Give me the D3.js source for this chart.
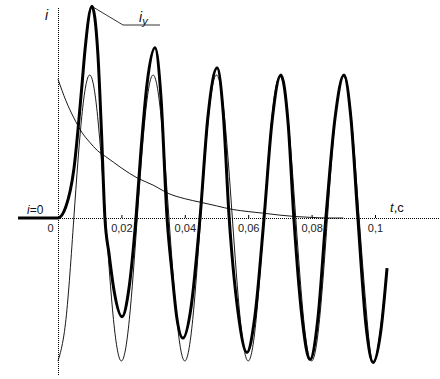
<!DOCTYPE html>
<html>
<head>
<meta charset="utf-8">
<script src="https://cdn.jsdelivr.net/npm/d3@7"></script>
<style>
body { margin: 0; background: #fff; }
svg { display: block; font-family: "Liberation Sans", Arial, sans-serif; }
</style>
</head>
<body>
<div id="chart"></div>
<script>
// values: t in seconds, i in units of the periodic amplitude
// total current i (thick line), i=0 before switching
const total_t = [-0.0126, 0, 0.0025, 0.005, 0.0076, 0.0085, 0.0107, 0.0126, 0.0137, 0.0148,
    0.0161, 0.0177, 0.0202, 0.0224, 0.0246, 0.0262, 0.0281, 0.0306, 0.0325, 0.0344,
    0.036, 0.0375, 0.0394, 0.042, 0.0448, 0.0473, 0.0502, 0.0521, 0.054, 0.0568,
    0.0596, 0.0621, 0.065, 0.0675, 0.0703, 0.0726, 0.0744, 0.077, 0.0795, 0.082,
    0.0845, 0.0874, 0.0902, 0.0924, 0.0946, 0.0972, 0.0994, 0.1019, 0.1038]
const total_i = [0, 0, 0.08, 0.34, 0.94, 1.17, 1.48, 1.14, 0.61, 0,
    -0.25, -0.51, -0.69, -0.49, 0, 0.48, 0.94, 1.19, 0.84, 0,
    -0.39, -0.70, -0.84, -0.62, 0, 0.71, 1.05, 0.74, 0, -0.66,
    -0.94, -0.69, 0, 0.67, 1.0, 0.66, 0, -0.70, -0.99, -0.70,
    0, 0.70, 1.0, 0.70, 0, -0.76, -1.01, -0.78, -0.35]

// periodic component (thin sine)
const periodic_t = [0, 0.0025, 0.005, 0.0075, 0.01, 0.0125, 0.015, 0.0175,
    0.02, 0.0225, 0.025, 0.0275, 0.03, 0.0325, 0.035, 0.0375,
    0.04, 0.0425, 0.045, 0.0475, 0.05, 0.0525, 0.055, 0.0575,
    0.06, 0.0625, 0.065, 0.0675, 0.07, 0.0725, 0.075, 0.0775,
    0.08, 0.0825, 0.085, 0.0875, 0.09, 0.0925, 0.095, 0.0975, 0.1, 0.1038]
const periodic_i = [-1, -0.71, 0, 0.71, 1, 0.71, 0, -0.71,
    -1, -0.71, 0, 0.71, 1, 0.71, 0, -0.71,
    -1, -0.71, 0, 0.71, 1, 0.71, 0, -0.71,
    -1, -0.71, 0, 0.71, 0.99, 0.71, 0, -0.71,
    -1, -0.71, 0, 0.71, 0.99, 0.71, 0, -0.71, -1, -0.37]

// aperiodic component (thin decaying line)
const aperiodic_t = [0, 0.0025, 0.005, 0.0075, 0.01, 0.0125, 0.015, 0.0175, 0.02,
    0.025, 0.03, 0.035, 0.04, 0.045, 0.05, 0.055, 0.06, 0.065, 0.07, 0.075, 0.08, 0.085, 0.09]
const aperiodic_i = [0.97, 0.82, 0.70, 0.60, 0.53, 0.47, 0.43, 0.39, 0.35,
    0.28, 0.23, 0.17, 0.135, 0.11, 0.085, 0.06, 0.045, 0.033, 0.02, 0.01, 0.004, 0, 0]

const tick_values = [0, 0.02, 0.04, 0.06, 0.08, 0.1]
const tick_labels = ["0", "0,02", "0,04", "0,06", "0,08", "0,1"]

// chart consts
const width = 440
const height = 379
const x = d3.scaleLinear().domain([0, 0.1]).range([58, 375])
const y = d3.scaleLinear().domain([-1, 1]).range([361, 75])

const svg = d3.select("#chart").append("svg")
    .attr("width", width)
    .attr("height", height)

function zip(ts, is){
    return ts.map((t, k) => [t, is[k]])
}

// dotted axes
svg.append("line")
    .attr("x1", x(0) + 0.5).attr("x2", x(0) + 0.5)
    .attr("y1", 8).attr("y2", 375)
    .attr("stroke", "#000").attr("stroke-dasharray", "1,1")
svg.append("line")
    .attr("x1", x(0)).attr("x2", width)
    .attr("y1", y(0) + 0.5).attr("y2", y(0) + 0.5)
    .attr("stroke", "#000").attr("stroke-dasharray", "1,1")

const axis = svg.append("g")
    .attr("transform", "translate(0," + y(0) + ")")
    .call(d3.axisBottom(x)
        .tickValues(tick_values)
        .tickFormat((d, k) => tick_labels[k])
        .tickSizeInner(-3)
        .tickSizeOuter(0)
        .tickPadding(6))
axis.select(".domain").remove()
axis.selectAll(".tick").filter(d => d === 0).select("line").remove()
axis.selectAll(".tick text")
    .attr("font-size", 11)
    .attr("font-family", "Liberation Sans, Arial, sans-serif")
    .attr("fill", "#222")
    .filter(d => d === 0).attr("dx", -8)

// curves
const line_smooth = d3.line().x(d => x(d[0])).y(d => y(d[1])).curve(d3.curveNatural)
const line_mono = d3.line().x(d => x(d[0])).y(d => y(d[1])).curve(d3.curveMonotoneX)

svg.append("path")
    .datum(zip(aperiodic_t, aperiodic_i))
    .attr("d", line_mono)
    .attr("fill", "none").attr("stroke", "#000").attr("stroke-width", 0.9)

svg.append("path")
    .datum(zip(periodic_t, periodic_i))
    .attr("d", line_smooth)
    .attr("fill", "none").attr("stroke", "#000").attr("stroke-width", 0.9)

const total = zip(total_t, total_i)
svg.append("path")
    .datum(total)
    .attr("d", line_mono)
    .attr("fill", "none").attr("stroke", "#000").attr("stroke-width", 3)

// leader line to the first peak of i
const peak = total.reduce((a, b) => b[1] > a[1] ? b : a)
svg.append("polyline")
    .attr("points", [[x(peak[0]), y(peak[1])], [123, 25], [160, 25]].join(" "))
    .attr("fill", "none").attr("stroke", "#000").attr("stroke-width", 0.8)

// labels
function label(px, py, main, sub, size){
    const t = svg.append("text")
        .attr("x", px).attr("y", py)
        .attr("font-size", size).attr("fill", "#111")
    t.append("tspan").attr("font-style", "italic").text(main)
    if (sub) t.append("tspan").attr("font-size", size - 3).attr("dy", 3).attr("font-style", "italic").text(sub)
    return t
}
label(45, 20, "i", null, 14)
label(139, 22, "i", "y", 14)

const i0 = svg.append("text").attr("x", 27).attr("y", 214).attr("font-size", 12).attr("fill", "#111")
i0.append("tspan").attr("font-style", "italic").text("i")
i0.append("tspan").text("=0")

const tc = svg.append("text").attr("x", 390).attr("y", 212).attr("font-size", 13).attr("fill", "#111")
tc.append("tspan").attr("font-style", "italic").text("t")
tc.append("tspan").text(",c")
</script>
</body>
</html>
